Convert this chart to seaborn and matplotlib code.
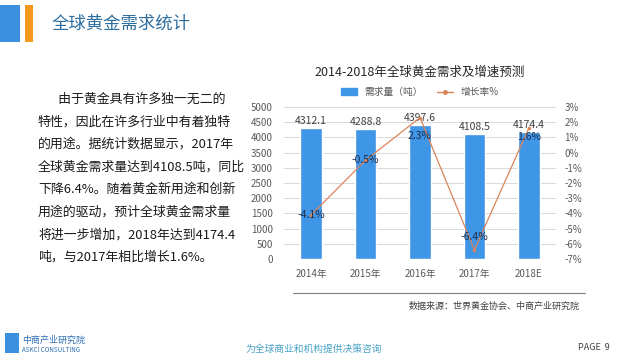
import numpy as np
import pandas as pd
import matplotlib
matplotlib.use("Agg")
import matplotlib.pyplot as plt
import seaborn as sns
from matplotlib.patches import Rectangle
from matplotlib.lines import Line2D

# --- data ---
years = ["2014年", "2015年", "2016年", "2017年", "2018E"]
demand = [4312.1, 4288.8, 4397.6, 4108.5, 4174.4]
growth = [-4.1, -0.5, 2.3, -6.4, 1.6]
left_ticks = list(range(0, 5001, 500))
right_ticks = list(range(-7, 4))

BAR_BLUE = "#3F96E6"
LINE_ORANGE = "#DB8458"
TICK_GRAY = "#595959"

sns.set_theme(style="white")
plt.rcParams["font.family"] = ["Noto Sans CJK SC", "DejaVu Sans"]

df = pd.DataFrame({"year": years, "demand": demand, "growth": growth})
df["pos"] = np.arange(len(df))

fig = plt.figure(figsize=(6.25, 3.6), dpi=100)
fig.patch.set_facecolor("white")

# header decoration + title
fig.add_artist(Rectangle((0.0, 1 - 42 / 360), 20 / 625, 37 / 360,
                         transform=fig.transFigure, color="#3D8FE0", lw=0))
fig.add_artist(Rectangle((25 / 625, 1 - 42 / 360), 8 / 625, 37 / 360,
                         transform=fig.transFigure, color="#F39A1E", lw=0))
fig.text(52 / 625, 1 - 24 / 360, "全球黄金需求统计", fontsize=12.5,
         color="#2E6E9E", va="center", ha="left")

# left paragraph
lines = [
    "       由于黄金具有许多独一无二的",
    "特性，因此在许多行业中有着独特",
    "的用途。据统计数据显示，2017年",
    "全球黄金需求量达到4108.5吨，同比",
    "下降6.4%。随着黄金新用途和创新",
    "用途的驱动，预计全球黄金需求量",
    "将进一步增加，2018年达到4174.4",
    "吨，与2017年相比增长1.6%。",
]
for i, ln in enumerate(lines):
    fig.text(38 / 625, 1 - (99 + i * 22.6) / 360, ln, fontsize=9.3,
             color="#1a1a1a", va="center", ha="left")

# chart
ax = fig.add_axes([284 / 625, 1 - 259 / 360, 272 / 625, 152 / 360])
sns.barplot(data=df, x="pos", y="demand", color=BAR_BLUE, width=0.4,
            saturation=1, ax=ax, zorder=2)
ax.set_ylim(0, 5000)
ax.set_yticks(left_ticks)
ax.set_xlim(-0.5, len(years) - 0.5)
ax.set_xticks(df["pos"])
ax.set_xticklabels(years)
ax.yaxis.grid(True, color="#D9D9D9", lw=0.7, zorder=0)
ax.set_axisbelow(True)
ax.set_xlabel("")
ax.set_ylabel("")
for s in ax.spines.values():
    s.set_visible(False)
ax.tick_params(axis="both", length=0, labelsize=7, colors=TICK_GRAY)
ax.tick_params(axis="x", pad=7)
ax.tick_params(axis="y", pad=8)
for p, v in zip(df["pos"], df["demand"]):
    ax.text(p, v + 60, f"{v:.1f}", ha="center", va="bottom", fontsize=7.5,
            color="#404040")

ax2 = ax.twinx()
sns.lineplot(data=df, x="pos", y="growth", color=LINE_ORANGE, lw=0.9,
             marker="o", markersize=2.5, markeredgewidth=0, ax=ax2, zorder=3)
ax2.set_ylim(-7, 3)
ax2.set_yticks(right_ticks)
ax2.set_yticklabels([f"{t}%" for t in right_ticks])
ax2.set_xlim(-0.5, len(years) - 0.5)
ax2.set_ylabel("")
for s in ax2.spines.values():
    s.set_visible(False)
ax2.tick_params(axis="y", length=0, labelsize=7, colors=TICK_GRAY, pad=6)
# label placement relative to each point (in % units), as in the reference
label_shift = [0.0, 0.0, -1.2, 0.85, -0.6]
for p, g, dy in zip(df["pos"], df["growth"], label_shift):
    ax2.text(p, g + dy, f"{g}%", ha="center", va="center", fontsize=7.5,
             color="#1F2F4F", zorder=4)

# chart title and legend
fig.text(420 / 625, 1 - 72 / 360, "2014-2018年全球黄金需求及增速预测",
         fontsize=9, color="#262626", ha="center", va="center")
handles = [
    Rectangle((0, 0), 1, 1, color=BAR_BLUE),
    Line2D([0], [0], color=LINE_ORANGE, lw=1, marker="o", markersize=2.5),
]
fig.legend(handles, ["需求量（吨）", "增长率%"], loc="center",
           bbox_to_anchor=(420 / 625, 1 - 92 / 360), ncol=2, frameon=False,
           fontsize=7, handlelength=1.6, handleheight=0.7, columnspacing=1.5,
           labelcolor=TICK_GRAY)

# footer
fig.add_artist(Line2D([293 / 625, 585 / 625], [1 - 293 / 360] * 2,
                      transform=fig.transFigure, color="#7F7F7F", lw=0.8))
fig.text(580 / 625, 1 - 306 / 360, "数据来源：世界黄金协会、中商产业研究院",
         fontsize=6.5, color="#404040", ha="right", va="center")
fig.text(610 / 625, 1 - 348 / 360, "PAGE  9", fontsize=6.5, color="#404040",
         ha="right", va="center")
fig.text(22 / 625, 1 - 340 / 360, "中商产业研究院", fontsize=6.5,
         color="#2E6FB5", ha="left", va="center")
fig.text(22 / 625, 1 - 350 / 360, "ASKCI CONSULTING", fontsize=4.5,
         color="#2E6FB5", ha="left", va="center")
fig.add_artist(Rectangle((5 / 625, 1 - 353 / 360), 14 / 625, 20 / 360,
                         transform=fig.transFigure, color="#3D8FE0", lw=0))
fig.text(245 / 625, 1 - 349 / 360, "为全球商业和机构提供决策咨询", fontsize=7,
         color="#4BA3C8", ha="left", va="center", style="italic")

fig.savefig("out.png", dpi=100, facecolor="white")
